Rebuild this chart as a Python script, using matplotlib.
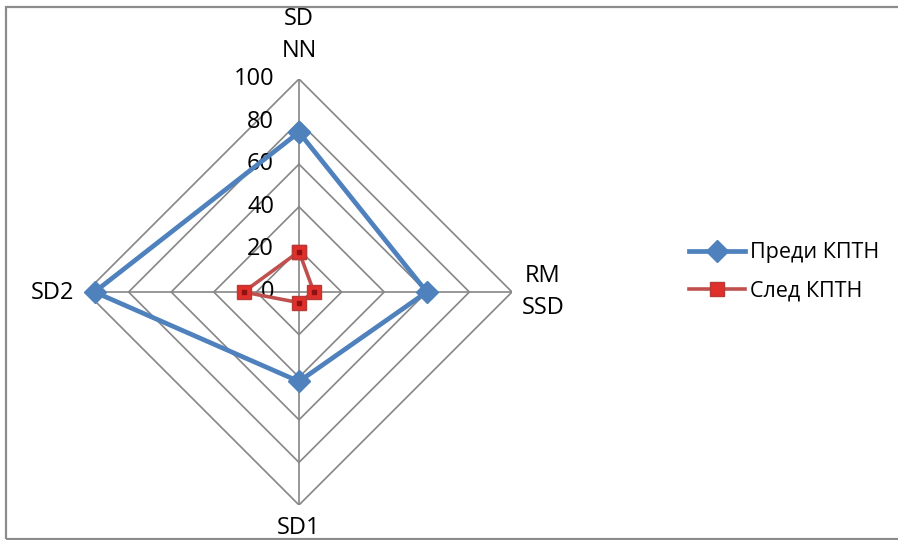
import numpy as np
import matplotlib
matplotlib.use("Agg")
import matplotlib.pyplot as plt
from matplotlib.patches import Rectangle

# HRV indices shown on the radar axes (clockwise from the top)
categories = ["SD\nNN", "RM\nSSD", "SD1", "SD2"]
before_values = [75, 60, 42, 96]   # Преди КПТН
after_values = [19, 7, 5, 26]      # След КПТН
series_names = ["Преди КПТН", "След КПТН"]
r_ticks = [0, 20, 40, 60, 80, 100]

plt.rcParams["font.family"] = ["Open Sans", "DejaVu Sans"]

W, H = 898, 540
fig = plt.figure(figsize=(W / 100, H / 100), dpi=100)

# chart-area frame (right edge runs off the canvas)
fig.patches.append(Rectangle((6 / W, 1 - 539 / H), 1.0, (539 - 7) / H,
                             transform=fig.transFigure, fill=False,
                             edgecolor="#8c8c8c", linewidth=1.6, zorder=3))

cx, cy, R = 299, 292, 213
ax = fig.add_axes([(cx - R) / W, 1 - (cy + R) / H, 2 * R / W, 2 * R / H],
                  projection="polar")
ax.set_theta_offset(np.pi / 2)
ax.set_theta_direction(-1)
ax.set_ylim(0, 100)
ax.grid(False)
ax.spines["polar"].set_visible(False)
ax.set_xticks([])
ax.set_yticks([])
ax.patch.set_alpha(0)

n = len(categories)
angles = np.arange(n) * 2 * np.pi / n
closed = np.append(angles, angles[0])

grid_col = "#868686"
for r in r_ticks[1:]:
    ax.plot(closed, [r] * (n + 1), color=grid_col, lw=1.2, zorder=1)
for a in angles:
    ax.plot([a, a], [0, 100], color=grid_col, lw=1.2, zorder=1)

# radial tick labels along the top spoke
for r in r_ticks:
    ax.annotate(str(r), xy=(0, r), xytext=(-18, 0), textcoords="offset points",
                ha="right", va="center", fontsize=17, color="black", zorder=2)

# category labels
label_pos = {
    0: dict(xy=(299, 35), va="center"),
    1: dict(xy=(543, 292), va="center"),
    2: dict(xy=(299, 516), va="top"),
    3: dict(xy=(52, 293), va="center"),
}
for i, lab in enumerate(categories):
    p = label_pos[i]
    fig.text(p["xy"][0] / W, 1 - p["xy"][1] / H, lab, ha="center", va=p["va"],
             fontsize=17, linespacing=1.45, color="black")

blue = "#4F81BD"
red = "#C0504D"
b = np.append(before_values, before_values[0])
a_ = np.append(after_values, after_values[0])
ax.plot(closed, b, color=blue, lw=3.4, marker="D", ms=11,
        markerfacecolor=blue, markeredgecolor=blue, label=series_names[0],
        zorder=4, clip_on=False)
ax.plot(closed, a_, color=red, lw=2.6, marker="s", ms=10,
        markerfacecolor="#E0302C", markeredgecolor="#B83A36",
        label=series_names[1], zorder=5, clip_on=False)
# darker centre on the square markers
ax.plot(angles, after_values, ls="none", marker="s", ms=3.5,
        color="#8E1212", zorder=6, clip_on=False)

leg = fig.legend(loc="center left", bbox_to_anchor=(670 / W, 1 - 272 / H),
                 frameon=False, fontsize=15.5, handlelength=2.6,
                 handletextpad=0.2, labelspacing=0.8)

fig.savefig("out.png", dpi=100)
